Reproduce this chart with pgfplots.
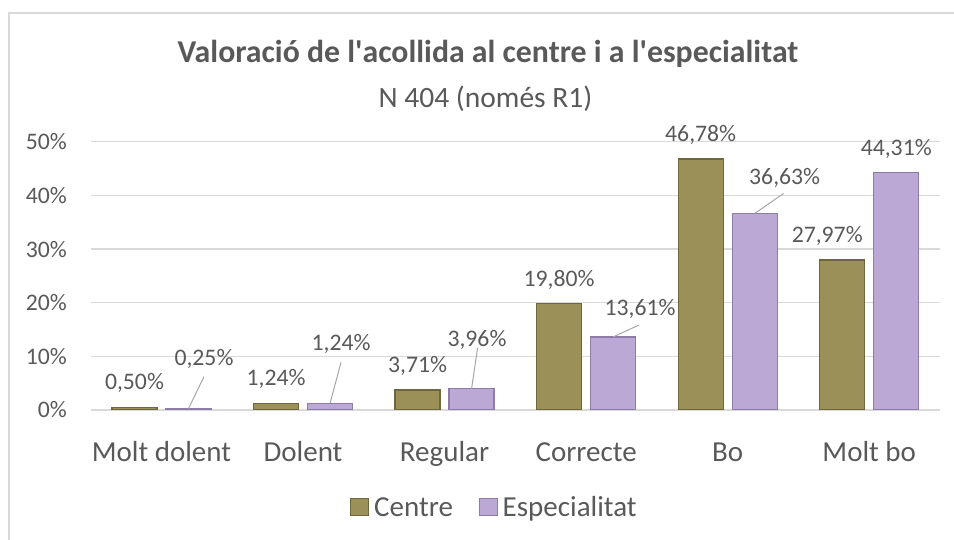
\documentclass[border=0pt]{standalone}
\usepackage{fontspec}
\setmainfont{Carlito}
\usepackage{pgfplots}
\usepackage{pgfplotstable}
\pgfplotsset{compat=1.18}
\definecolor{txt}{HTML}{595959}
\definecolor{gridc}{HTML}{D9D9D9}
\definecolor{centre}{HTML}{9A9058}
\definecolor{centreD}{HTML}{6E673E}
\definecolor{espec}{HTML}{BBA8D4}
\definecolor{especD}{HTML}{8C7CA6}
\definecolor{leadc}{HTML}{A6A6A6}

\pgfplotstableread{
x y dx dy
0 0.50 0 25
1 1.24 0 25
2 3.71 0 25
3 19.80 0 25
4 46.78 0 25
5 27.97 -15 25
}\centredata
\pgfplotstableread{
x y dx dy
0 0.25 15.5 50.7
1 1.24 11 60
2 3.96 5.4 50
3 13.61 27 29
4 36.63 30 36.4
5 44.31 0 24
}\especdata

\begin{document}
\begin{tikzpicture}[x=1pt,y=1pt]
\useasboundingbox (-90.7,-130) rectangle (863.3,410);
\draw[gridc, line width=1.5pt] (-81.7,-140) rectangle (874.3,397);
\node[anchor=base, text=txt, font=\bfseries\fontsize{31.8}{32}\selectfont] at (397.3,347)
  {Valoració de l\textquotesingle acollida al centre i a l\textquotesingle especialitat};
\node[anchor=base, text=txt, font=\fontsize{29.5}{30}\selectfont] at (394.8,302)
  {N 404 (només R1)};
\begin{axis}[
  at={(0,0)}, anchor=south west,
  scale only axis, width=849.3pt, height=268.3pt,
  xmin=-0.5, xmax=5.5, ymin=0, ymax=50,
  ybar=9pt, bar width=45pt,
  axis line style={draw=none},
  tick style={draw=none},
  ymajorgrids, grid style={gridc, line width=1.5pt},
  ytick={0,10,20,30,40,50},
  xtick={0,1,2,3,4,5},
  xticklabels={Molt dolent, Dolent, Regular, Correcte, Bo, Molt bo},
  /pgf/number format/assume math mode=true,
  yticklabel={\pgfmathprintnumber{\tick}\%},
  ticklabel style={text=txt},
  yticklabel style={font=\fontsize{23.7}{24}\selectfont, anchor=east, inner sep=0pt, xshift=-23.7pt},
  xticklabel style={font=\fontsize{29}{30}\selectfont, anchor=base, inner sep=0pt, yshift=-47pt},
  point meta=y,
  nodes near coords={\pgfmathprintnumber[fixed, fixed zerofill, precision=2, use comma]{\pgfplotspointmeta}\%},
  nodes near coords style={font=\fontsize{23.7}{24}\selectfont, text=txt, anchor=base, inner sep=0pt, xshift=\dx pt, yshift=\dy pt-7.5pt},
  visualization depends on={\thisrow{dx} \as \dx},
  visualization depends on={\thisrow{dy} \as \dy},
  legend style={at={(0.4755,-0.3634)}, anchor=center, draw=none, fill=none,
    font=\fontsize{29}{30}\selectfont, text=txt, inner sep=0pt,
    /tikz/every even column/.append style={column sep=24pt},
    nodes={inner sep=2pt}},
  legend columns=2,
  legend image code/.code={\draw[#1, line width=0.8pt] (0pt,-8pt) rectangle (18pt,9pt);},
]
\addplot[fill=espec!0!centre, draw=centreD, line width=1.2pt] table[x=x,y=y] {\centredata};
\addplot[fill=espec, draw=especD, line width=1.2pt] table[x=x,y=y] {\especdata};
\legend{\hspace{3pt}Centre, \hspace{3pt}Especialitat}
\draw[leadc, line width=1pt] ([xshift=27pt]axis cs:0,0.25) -- ++(15.5pt,32pt);
\draw[leadc, line width=1pt] ([xshift=27pt]axis cs:1,1.24) -- ++(11pt,41pt);
\draw[leadc, line width=1pt] ([xshift=27pt]axis cs:2,3.96) -- ++(6pt,41pt);
\draw[leadc, line width=1pt] ([xshift=27pt]axis cs:3,13.61) -- ++(26pt,12pt);
\draw[leadc, line width=1pt] ([xshift=27pt]axis cs:4,36.63) -- ++(29pt,20pt);
\end{axis}
\end{tikzpicture}
\end{document}
